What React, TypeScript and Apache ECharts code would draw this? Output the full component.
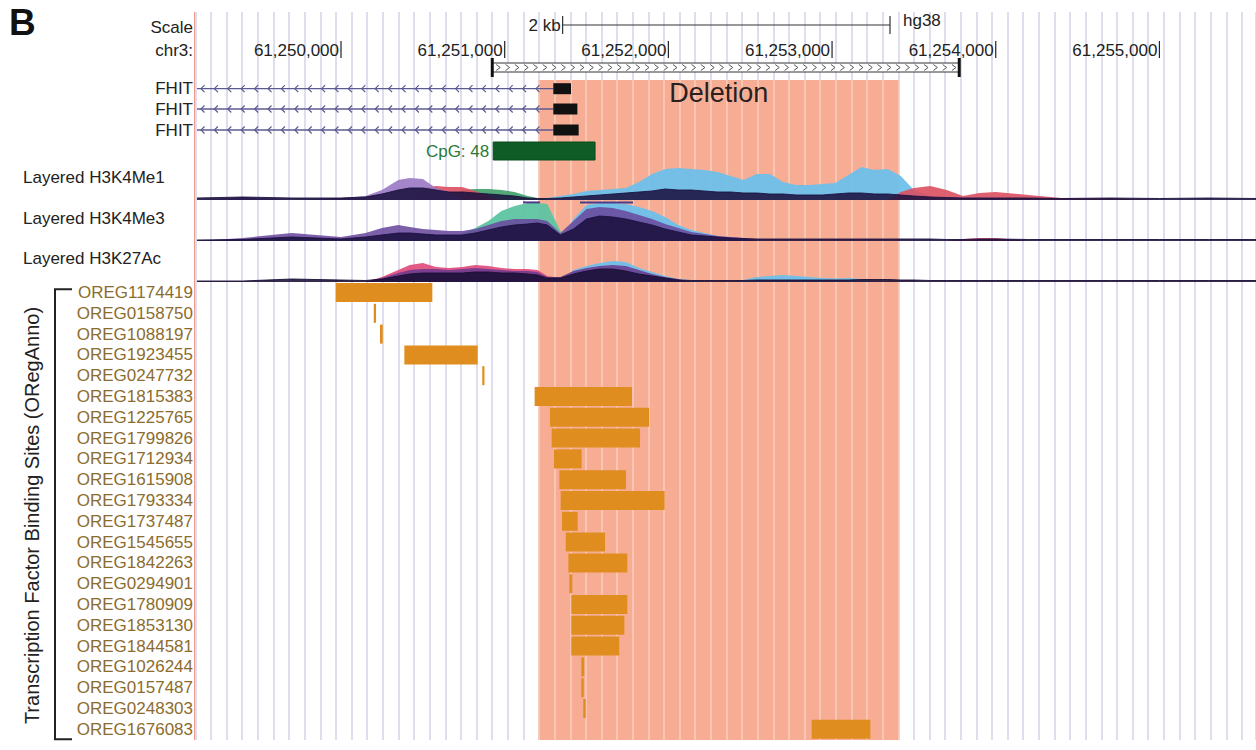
import React, { useEffect, useRef } from "react";
import * as echarts from "echarts";

// ---------- DATA ----------
const XMIN = 61249108;
const XMAX = 61255590;

const rulerTicks = [61250000, 61251000, 61252000, 61253000, 61254000, 61255000];
const scaleBar = [61251354, 61253354]; // 2 kb
const scaleLabel = "2 kb";
const assembly = "hg38";
const regionBar = [61250924, 61253777];
const deletion = [61251205, 61253411];
const deletionLabel = "Deletion";
const cpg = [61250930, 61251552];
const cpgLabel = "CpG: 48";

const fhitNames = ["FHIT", "FHIT", "FHIT"];
const fhitExonStart = [61251297, 61251297, 61251297];
const fhitExonEnd = [61251405, 61251444, 61251452];

const oregNames = [
  "OREG1174419", "OREG0158750", "OREG1088197", "OREG1923455", "OREG0247732",
  "OREG1815383", "OREG1225765", "OREG1799826", "OREG1712934", "OREG1615908",
  "OREG1793334", "OREG1737487", "OREG1545655", "OREG1842263", "OREG0294901",
  "OREG1780909", "OREG1853130", "OREG1844581", "OREG1026244", "OREG0157487",
  "OREG0248303", "OREG1676083",
];
const oregStart = [
  61249968, 61250200, 61250238, 61250387, 61250863,
  61251183, 61251277, 61251287, 61251301, 61251334,
  61251342, 61251350, 61251373, 61251389, 61251395,
  61251407, 61251407, 61251407, 61251468, 61251468,
  61251480, 61252875,
];
const oregEnd = [
  61250558, 61250214, 61250255, 61250835, 61250875,
  61251778, 61251882, 61251827, 61251470, 61251741,
  61251977, 61251446, 61251613, 61251749, 61251413,
  61251749, 61251731, 61251700, 61251486, 61251483,
  61251495, 61253234,
];

const trackPos = [
  61249120, 61249400, 61249700, 61250000, 61250150, 61250250, 61250350, 61250420, 61250500, 61250580,
  61250660, 61250740, 61250820, 61250900, 61250980, 61251060, 61251140, 61251200, 61251260, 61251340,
  61251420, 61251500, 61251580, 61251660, 61251740, 61251820, 61251900, 61251980, 61252060, 61252140,
  61252220, 61252300, 61252380, 61252460, 61252540, 61252620, 61252700, 61252780, 61252860, 61252940,
  61253020, 61253100, 61253180, 61253260, 61253340, 61253420, 61253500, 61253600, 61253700, 61253800,
  61253900, 61254000, 61254200, 61254400, 61254700, 61255000, 61255300, 61255590,
];

// Layered H3K4Me1
const me1Dark = [2,3,2,2,3,6,10,12,12,10, 8,8,7,6,5,4,2,1.5,1.5,2, 3,4,5,6,7,8,9,11,10,10, 9,8,8,7,7,6,6,5,5,5, 6,7,7,6,6,5,4,3,2.5,2, 2,2,2,1.5,2,1.5,2,1.5];
const me1Purple = [0,3,0,2,4,10,20,22,21,12, 8,0,0,0,0,0,0,0,0,0, 0,0,0,0,0,0,0,0,0,0, 0,0,0,0,0,0,0,0,0,0, 0,0,0,0,0,0,0,0,0,0, 0,0,0,0,0,0,0,0];
const me1Red = [0,0,0,0,0,0,0,0,12,14, 13,13,9,4,0,0,0,0,0,0, 0,0,0,0,0,0,0,0,0,0, 0,0,0,0,0,0,0,0,0,0, 0,0,0,0,0,8,12,14,10,4, 7,8,5,2,1.5,0,0,0];
const me1Green = [0,0,0,0,0,0,0,0,0,0, 0,10,11,11,10,8,4,2,0,0, 0,0,0,0,0,0,0,0,0,0, 0,0,0,0,0,0,0,0,0,0, 0,0,0,0,0,0,0,0,0,0, 0,0,0,0,0,0,0,0];
const me1Blue = [0,0,0,0,0,0,0,0,0,0, 0,0,0,0,0,0,0,0,2,4, 6,9,10,11,12,18,26,31,32,31, 30,28,24,20,26,26,18,15,15,16, 17,25,33,30,31,24,10,4,0,0, 0,0,0,0,0,0,0,0];

// Layered H3K4Me3
const me3Dark = [1,1.5,4,2,4,6,8,8,7,6, 6,6,8,11,14,16,17,18,16,6, 12,22,25,24,22,19,16,12,9,6, 5,4,3,2.5,2,2,2,2,2,2, 2,2,2,2,2,2,2,2,1.5,1.5, 2,2,1.5,1.5,1.5,1.5,1.5,1.5];
const me3Purple = [0,3,8,4,8,13,16,14,12,11, 10,10,12,16,20,22,22,22,20,8, 20,32,34,33,30,26,22,17,13,9, 7,5,4,3,0,0,0,0,0,0, 0,0,0,0,0,0,0,0,0,0, 0,0,0,0,0,0,0,0];
const me3Green = [0,0,0,0,0,0,0,0,0,0, 0,8,13,20,30,35,38,38,37,10, 0,0,0,0,0,0,0,0,0,0, 0,0,0,0,0,0,0,0,0,0, 0,0,0,0,0,0,0,0,0,0, 0,0,0,0,0,0,0,0];
const me3Blue = [0,0,0,0,0,0,0,0,0,0, 0,0,0,0,0,0,0,0,0,0, 22,36,38,38,37,34,30,24,16,11, 8,5,0,0,0,0,0,0,0,0, 0,0,0,0,0,0,0,0,0,0, 0,0,0,0,0,0,0,0];
const me3Red = [0,0,0,0,0,0,0,0,0,0, 0,0,0,0,0,0,0,0,0,0, 0,0,0,0,0,0,0,0,0,0, 0,0,0,0,0,0,0,0,0,0, 0,0,0,0,0,0,0,0,0,2, 3,3,0,0,0,0,0,0];
const me3ClipStart = [61251112, 61251460];
const me3ClipEnd = [61251216, 61251784];
const me3ClipValue = 38.6;

// Layered H3K27Ac
const k27Dark = [1,1,3,2,1.5,3,6,8,9,9, 9,9,10,10,9,9,8,7,4,4, 8,11,13,13,11,8,6,4,2,1.5, 1.5,1.5,1.5,1.5,2,2,2,2,2,2, 2,2,2.5,2.5,2.5,2,2,1.5,1.5,1.5, 1.5,1.5,1.5,1.5,1.5,1.5,1.5,1.5];
const k27Purple = [0,0,0,0,0,4,9,12,13,13, 12,13,14,13,12,11,11,10,5,5, 11,14,16,17,16,12,8,5,3,0, 0,0,0,0,0,0,0,0,0,0, 0,0,0,0,0,0,0,0,0,0, 0,0,0,0,0,0,0,0];
const k27Pink = [0,0,0,0,0,5,12,17,19,15, 14,15,17,16,14,13,13,12,6,4, 0,0,0,0,0,0,0,0,0,0, 0,0,0,0,0,0,0,0,0,0, 0,0,0,0,0,0,0,0,0,0, 0,0,0,0,0,0,0,0];
const k27Blue = [0,0,0,0,0,0,0,0,0,0, 0,0,0,0,0,0,0,0,0,0, 12,16,19,21,20,14,10,6,3,2, 0,0,0,2,5,6,7,6,5,4, 3.5,4,3,0,0,0,0,0,0,0, 0,0,0,0,0,0,0,0];

const trackLabels = ["Layered H3K4Me1", "Layered H3K4Me3", "Layered H3K27Ac"];
const tfbsTitle = "Transcription Factor Binding Sites (ORegAnno)";

// ---------- LAYOUT / STYLE ----------
const FONT = '"Liberation Sans", Arial, Helvetica, sans-serif';
const W = 1256;
const H = 750;
const PLOT_LEFT = 195;
const GUIDE_STEP = 15.62;
const GUIDE_LEFT = 211 - GUIDE_STEP;
const GUIDE_MAX = (W - GUIDE_LEFT) / GUIDE_STEP;
const FHIT_Y = [88.7, 109, 130];

function txt(text: string, x: number, y: number, opts: any = {}) {
  const align = opts.align || "left";
  const valign = opts.valign || "middle";
  return {
    type: "text",
    x,
    y,
    z: opts.z ?? 10,
    rotation: opts.rotation || 0,
    style: {
      text,
      fill: opts.fill || "#222",
      fontSize: opts.fontSize || 17,
      fontFamily: FONT,
      fontWeight: opts.fontWeight || "normal",
      align,
      verticalAlign: valign,
      textAlign: align,
      textVerticalAlign: valign,
    },
  };
}

function guideAxis(gridIndex: number, color: string, z: number) {
  return {
    type: "value",
    gridIndex,
    min: 0,
    max: GUIDE_MAX,
    interval: 1,
    z,
    axisLine: { show: false },
    axisTick: { show: false },
    axisLabel: { show: false },
    splitLine: { show: true, lineStyle: { color, width: 1.5 } },
  };
}

function area(gridIndex: number, vals: number[], color: string, opacity: number, z: number, lineW = 0) {
  return {
    type: "line",
    xAxisIndex: gridIndex,
    yAxisIndex: gridIndex,
    data: trackPos.map((p, i) => [p, vals[i]]),
    showSymbol: false,
    symbol: "none",
    silent: true,
    z,
    lineStyle: { width: lineW, color, opacity },
    areaStyle: { color, opacity },
  };
}

function buildOption(): any {
  const bpGrids = [2, 3, 4, 5, 6];
  return {
    animation: false,
    textStyle: { fontFamily: FONT },
    grid: [
      { left: GUIDE_LEFT, right: 0, top: 12, bottom: 10 },
      { left: GUIDE_LEFT, right: 0, top: 12, bottom: 10 },
      { left: PLOT_LEFT, right: 0, top: 0, height: H },
      { left: PLOT_LEFT, right: 0, top: 160, height: 40 },
      { left: PLOT_LEFT, right: 0, top: 202, height: 39 },
      { left: PLOT_LEFT, right: 0, top: 250, height: 32 },
      { left: PLOT_LEFT, right: 0, top: 282.1, height: 457.6 },
    ],
    xAxis: [
      guideAxis(0, "#c2c2df", 0),
      guideAxis(1, "rgba(255,255,255,0.4)", 2),
      ...bpGrids.map((g) => ({ type: "value", gridIndex: g, min: XMIN, max: XMAX, show: false })),
    ],
    yAxis: [
      { type: "value", gridIndex: 0, min: 0, max: 1, show: false },
      { type: "value", gridIndex: 1, min: 0, max: 1, show: false },
      { type: "value", gridIndex: 2, min: 0, max: H, inverse: true, show: false },
      { type: "value", gridIndex: 3, min: 0, max: 40, show: false },
      { type: "value", gridIndex: 4, min: 0, max: 39, show: false },
      { type: "value", gridIndex: 5, min: 0, max: 32, show: false },
      {
        type: "category",
        gridIndex: 6,
        data: oregNames,
        inverse: true,
        axisLine: { show: false },
        axisTick: { show: false },
        splitLine: { show: false },
        axisLabel: { color: "#8c6c2e", fontSize: 17, fontFamily: FONT, margin: 2, interval: 0 },
      },
    ],
    series: [
      // deletion highlight
      {
        type: "custom",
        xAxisIndex: 2,
        yAxisIndex: 2,
        z: 1,
        silent: true,
        encode: { x: [0, 1], y: 2 },
        data: [[deletion[0], deletion[1], 0]],
        renderItem: (params: any, api: any) => {
          const x0 = api.coord([api.value(0), 0])[0];
          const x1 = api.coord([api.value(1), 0])[0];
          return { type: "rect", shape: { x: x0, y: 80, width: x1 - x0, height: 660 }, style: { fill: "#f7ad94" } };
        },
      },
      // deletion label
      {
        type: "custom",
        xAxisIndex: 2,
        yAxisIndex: 2,
        z: 6,
        silent: true,
        encode: { x: [0, 1], y: 2 },
        data: [[deletion[0], deletion[1], 0]],
        renderItem: (params: any, api: any) => {
          const x0 = api.coord([api.value(0), 0])[0];
          const x1 = api.coord([api.value(1), 0])[0];
          return txt(deletionLabel, (x0 + x1) / 2, 93, { align: "center", fontSize: 27, fill: "#2a2020" });
        },
      },
      // ruler
      {
        type: "custom",
        xAxisIndex: 2,
        yAxisIndex: 2,
        z: 6,
        silent: true,
        encode: { x: 0, y: 1 },
        data: rulerTicks.map((t) => [t, 0]),
        renderItem: (params: any, api: any) => {
          const x = api.coord([api.value(0), 0])[0];
          return {
            type: "group",
            children: [
              { type: "line", shape: { x1: x, y1: 41, x2: x, y2: 58 }, style: { stroke: "#222", lineWidth: 1.2 } },
              txt(Number(api.value(0)).toLocaleString("en-US"), x - 2, 50, { align: "right" }),
            ],
          };
        },
      },
      // scale bar
      {
        type: "custom",
        xAxisIndex: 2,
        yAxisIndex: 2,
        z: 6,
        silent: true,
        encode: { x: [0, 1], y: 2 },
        data: [[scaleBar[0], scaleBar[1], 0]],
        renderItem: (params: any, api: any) => {
          const x0 = api.coord([api.value(0), 0])[0];
          const x1 = api.coord([api.value(1), 0])[0];
          const st = { stroke: "#333", lineWidth: 1.2 };
          return {
            type: "group",
            children: [
              { type: "line", shape: { x1: x0, y1: 25, x2: x1, y2: 25 }, style: st },
              { type: "line", shape: { x1: x0, y1: 16, x2: x0, y2: 34 }, style: st },
              { type: "line", shape: { x1: x1, y1: 16, x2: x1, y2: 34 }, style: st },
              txt(scaleLabel, x0 - 2, 25, { align: "right" }),
              txt(assembly, x1 + 13, 20, { align: "left" }),
            ],
          };
        },
      },
      // region bar with chevrons
      {
        type: "custom",
        xAxisIndex: 2,
        yAxisIndex: 2,
        z: 6,
        silent: true,
        encode: { x: [0, 1], y: 2 },
        data: [[regionBar[0], regionBar[1], 0]],
        renderItem: (params: any, api: any) => {
          const x0 = api.coord([api.value(0), 0])[0];
          const x1 = api.coord([api.value(1), 0])[0];
          const ch: any[] = [
            { type: "rect", shape: { x: x0, y: 63, width: x1 - x0, height: 9 }, style: { fill: "#fff", stroke: "#333", lineWidth: 1 } },
          ];
          for (let x = x0 + 6; x < x1 - 4; x += 9.3) {
            ch.push({
              type: "polyline",
              shape: { points: [[x - 2, 64.5], [x + 2, 67.5], [x - 2, 70.5]] },
              style: { stroke: "#555", lineWidth: 1, fill: "none" },
            });
          }
          ch.push({ type: "rect", shape: { x: x0 - 1.5, y: 58, width: 3, height: 19 }, style: { fill: "#111" } });
          ch.push({ type: "rect", shape: { x: x1 - 1.5, y: 58, width: 3, height: 19 }, style: { fill: "#111" } });
          return { type: "group", children: ch };
        },
      },
      // FHIT transcripts
      {
        type: "custom",
        xAxisIndex: 2,
        yAxisIndex: 2,
        z: 6,
        silent: true,
        encode: { x: [0, 1], y: 2 },
        data: fhitExonStart.map((s, i) => [s, fhitExonEnd[i], i]),
        renderItem: (params: any, api: any) => {
          const i = params.dataIndex;
          const y = FHIT_Y[i];
          const xs = api.coord([api.value(0), 0])[0];
          const xe = api.coord([api.value(1), 0])[0];
          const xl = api.coord([XMIN, 0])[0] + 2;
          const col = "#5b5b92";
          const ch: any[] = [
            { type: "line", shape: { x1: xl, y1: y, x2: xs, y2: y }, style: { stroke: col, lineWidth: 1.3 } },
          ];
          for (let x = xl + 4; x < xs - 6; x += 13.4) {
            ch.push({
              type: "polyline",
              shape: { points: [[x + 3.5, y - 3.5], [x, y], [x + 3.5, y + 3.5]] },
              style: { stroke: col, lineWidth: 1.2, fill: "none" },
            });
          }
          ch.push({ type: "rect", shape: { x: xs, y: y - 5.5, width: xe - xs, height: 11 }, style: { fill: "#111" } });
          ch.push(txt(fhitNames[i], 193, y, { align: "right" }));
          return { type: "group", children: ch };
        },
      },
      // CpG island
      {
        type: "custom",
        xAxisIndex: 2,
        yAxisIndex: 2,
        z: 6,
        silent: true,
        encode: { x: [0, 1], y: 2 },
        data: [[cpg[0], cpg[1], 0]],
        renderItem: (params: any, api: any) => {
          const x0 = api.coord([api.value(0), 0])[0];
          const x1 = api.coord([api.value(1), 0])[0];
          return {
            type: "group",
            children: [
              { type: "rect", shape: { x: x0, y: 142, width: x1 - x0, height: 18 }, style: { fill: "#0f5c26", stroke: "#0a4a1c", lineWidth: 1 } },
              txt(cpgLabel, x0 - 4, 151, { align: "right", fill: "#2a7a3a" }),
            ],
          };
        },
      },
      // Layered H3K4Me1
      area(3, me1Blue, "#6ec0ea", 0.95, 4),
      area(3, me1Green, "#3f9f68", 0.9, 4),
      area(3, me1Red, "#dc5060", 0.9, 4),
      area(3, me1Purple, "#9b78c4", 0.9, 4),
      area(3, me1Dark, "#1b1240", 0.88, 4, 1),
      // Layered H3K4Me3
      area(4, me3Blue, "#6ec0ea", 0.95, 4),
      area(4, me3Green, "#5ec4a2", 0.95, 4),
      area(4, me3Red, "#e0505e", 0.9, 4),
      area(4, me3Purple, "#6a4a9e", 0.88, 4),
      area(4, me3Dark, "#1b1040", 0.88, 4, 1),
      {
        type: "custom",
        xAxisIndex: 4,
        yAxisIndex: 4,
        z: 5,
        silent: true,
        encode: { x: [0, 1], y: 2 },
        data: me3ClipStart.map((s, i) => [s, me3ClipEnd[i], me3ClipValue]),
        renderItem: (params: any, api: any) => {
          const p0 = api.coord([api.value(0), api.value(2)]);
          const p1 = api.coord([api.value(1), api.value(2)]);
          return { type: "line", shape: { x1: p0[0], y1: p0[1], x2: p1[0], y2: p1[1] }, style: { stroke: "#4b3c8a", lineWidth: 2 } };
        },
      },
      // Layered H3K27Ac
      area(5, k27Blue, "#6ec0ea", 0.95, 4),
      area(5, k27Pink, "#e0487a", 0.9, 4),
      area(5, k27Purple, "#6b3a8e", 0.88, 4),
      area(5, k27Dark, "#1a0f35", 0.88, 4, 1),
      // ORegAnno TFBS bars
      {
        type: "custom",
        xAxisIndex: 6,
        yAxisIndex: 6,
        z: 4,
        silent: true,
        encode: { x: [0, 1], y: 2 },
        data: oregStart.map((s, i) => [s, oregEnd[i], i]),
        renderItem: (params: any, api: any) => {
          const p0 = api.coord([api.value(0), api.value(2)]);
          const p1 = api.coord([api.value(1), api.value(2)]);
          const w = Math.max(2.2, p1[0] - p0[0]);
          return { type: "rect", shape: { x: p0[0], y: p0[1] - 9.5, width: w, height: 19 }, style: { fill: "#e08d1f" } };
        },
      },
    ],
    graphic: [
      { type: "line", z: 10, shape: { x1: 194.5, y1: 12, x2: 194.5, y2: 740 }, style: { stroke: "#ee9a8c", lineWidth: 1 } },
      txt("B", 9, 22, { fontSize: 37, fontWeight: "bold", fill: "#111" }),
      txt("Scale", 193, 27, { align: "right" }),
      txt("chr3:", 193, 50, { align: "right" }),
      txt(trackLabels[0], 23, 177),
      txt(trackLabels[1], 23, 218),
      txt(trackLabels[2], 23, 258),
      {
        type: "polyline",
        z: 10,
        shape: { points: [[72, 289.3], [55, 289.3], [55, 739.3], [72, 739.3]] },
        style: { stroke: "#222", lineWidth: 2, fill: "none" },
      },
      txt(tfbsTitle, 31.5, 515.5, { align: "center", fontSize: 20, rotation: Math.PI / 2 }),
    ],
  };
}

export default function App() {
  const ref = useRef<HTMLDivElement>(null);
  useEffect(() => {
    document.body.style.margin = "0";
    const chart = echarts.init(ref.current!, null, { renderer: "svg" });
    chart.setOption(buildOption());
    return () => chart.dispose();
  }, []);
  return (
    <div
      ref={ref}
      style={{ width: W, height: H, position: "absolute", left: 0, top: 0, background: "#fff" }}
    />
  );
}
